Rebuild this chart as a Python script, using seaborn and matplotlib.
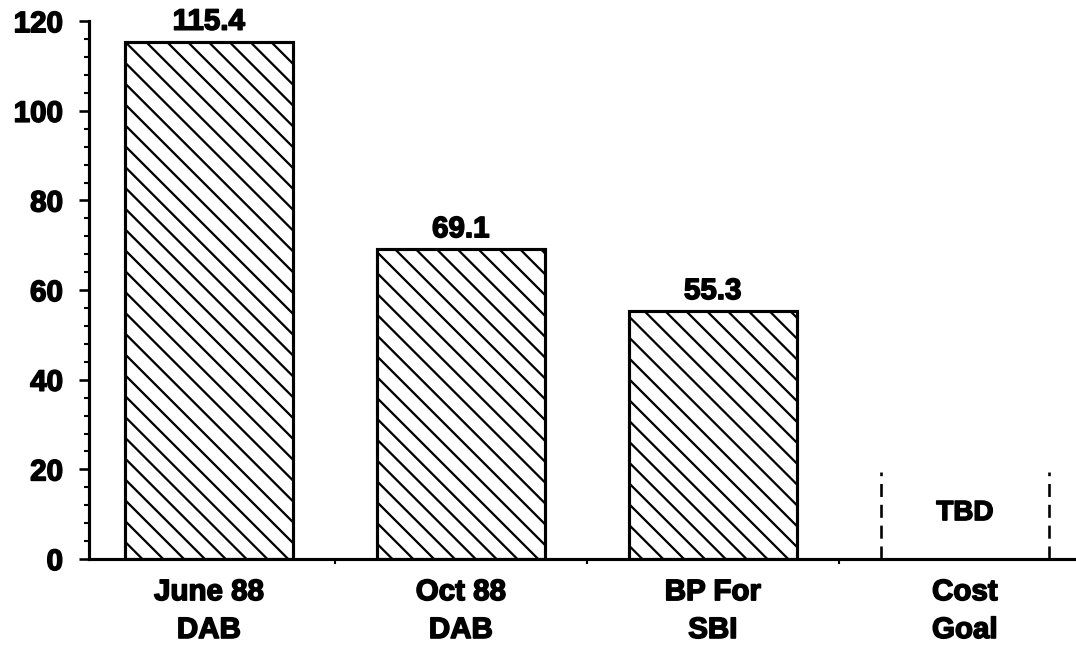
import numpy as np
import matplotlib
matplotlib.use("Agg")
import matplotlib.pyplot as plt
import matplotlib.patheffects as pe
from matplotlib.ticker import MultipleLocator, FixedLocator
import seaborn as sns

# dados do grafico
categories = ["June 88\nDAB", "Oct 88\nDAB", "BP For\nSBI", "Cost\nGoal"]
costs = [115.4, 69.1, 55.3]
value_labels = ["115.4", "69.1", "55.3"]
goal_label = "TBD"
goal_marker_height = 19.5
y_ticks = [0, 20, 40, 60, 80, 100, 120]

sns.set_style("white")
plt.rcParams["font.family"] = ["Liberation Sans", "DejaVu Sans"]
plt.rcParams["font.weight"] = "bold"
plt.rcParams["hatch.linewidth"] = 1.3
for key in ["text.color", "axes.labelcolor", "xtick.color", "ytick.color", "axes.edgecolor"]:
    plt.rcParams[key] = "black"

# letra mais grossa, parecida com o original
heavy = [pe.withStroke(linewidth=0.9, foreground="black")]

DPI = 125
fig = plt.figure(figsize=(1076 / DPI, 648 / DPI), dpi=DPI)
ax = fig.add_axes([0.0827, 0.1373, 0.917, 0.830])

bar_width = 0.667
sns.barplot(x=categories[:3], y=costs, order=categories, color="white",
            edgecolor="black", linewidth=1.8, width=bar_width, saturation=1, ax=ax)
for patch in ax.patches:
    patch.set_hatch("\\\\")
    patch.set_facecolor("white")

texts = ax.bar_label(ax.containers[0], labels=value_labels, padding=3.5,
                     fontsize=17, fontweight="bold")
for t in texts:
    t.set_path_effects(heavy)

# meta de custo ainda indefinida: so as laterais tracejadas
goal_pos = categories.index("Cost\nGoal")
ax.vlines([goal_pos - bar_width / 2, goal_pos + bar_width / 2], 0, goal_marker_height,
          colors="black", linewidth=1.5, linestyles=(0, (5, 3)))
ax.text(goal_pos, goal_marker_height / 2 + 0.5, goal_label, ha="center", va="center",
        fontsize=16, fontweight="bold", path_effects=heavy)

ax.set_xlim(-0.476, 3.44)
ax.set_ylim(0, 120)
ax.set_yticks(y_ticks)
ax.yaxis.set_minor_locator(MultipleLocator(4))
ax.xaxis.set_minor_locator(FixedLocator([0.5, 1.5, 2.5]))

ax.tick_params(axis="y", which="major", length=6, width=1.5, pad=9, labelsize=17, left=True)
ax.tick_params(axis="y", which="minor", length=3, width=1.2, left=True)
ax.tick_params(axis="x", which="major", length=0, pad=11, labelsize=17)
ax.tick_params(axis="x", which="minor", length=3, width=1.2, bottom=True)
for lbl in ax.get_xticklabels() + ax.get_yticklabels():
    lbl.set_fontweight("bold")
    lbl.set_path_effects(heavy)
for lbl in ax.get_xticklabels():
    lbl.set_linespacing(1.45)

ax.set_xlabel("")
ax.set_ylabel("")
sns.despine(ax=ax, top=True, right=True)
for side in ["left", "bottom"]:
    ax.spines[side].set_linewidth(1.8)
    ax.spines[side].set_color("black")

fig.savefig("out.png", dpi=DPI)
